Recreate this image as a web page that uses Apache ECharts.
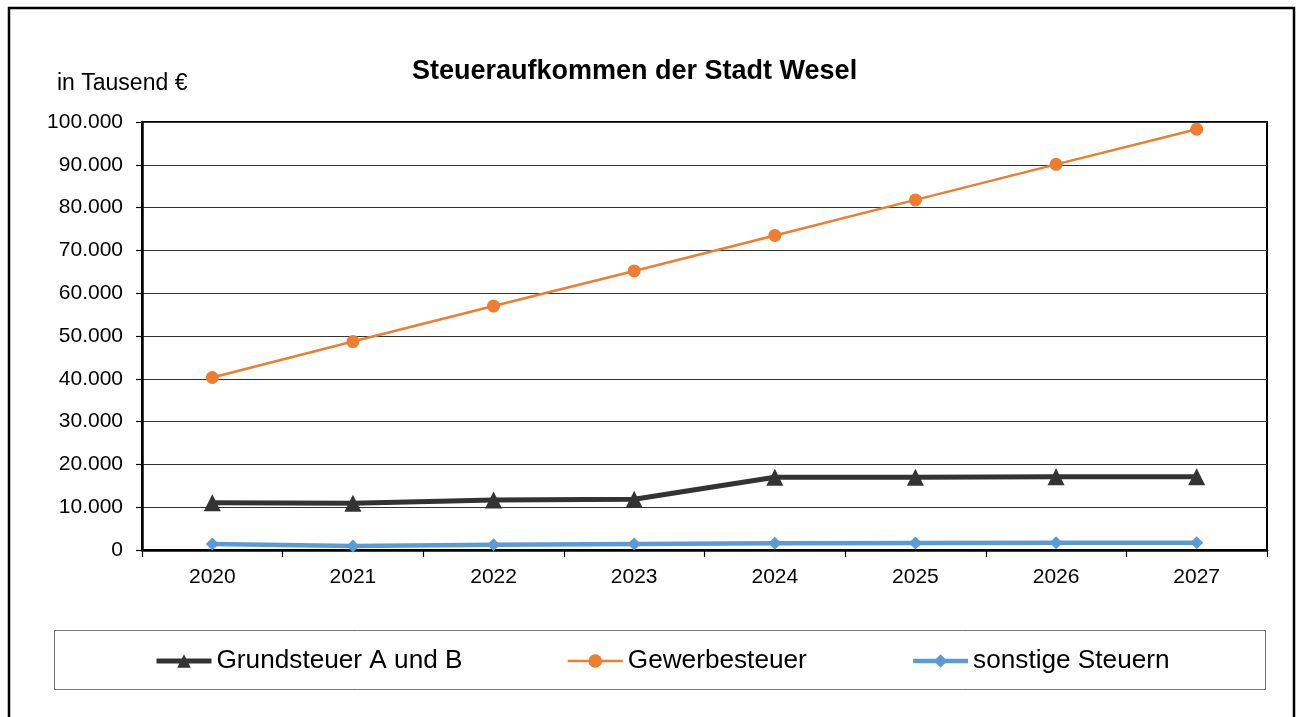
<!DOCTYPE html>
<html>
<head>
<meta charset="utf-8">
<script src="https://cdn.jsdelivr.net/npm/echarts@6/dist/echarts.min.js"></script>
<style>
html,body{margin:0;padding:0;background:#fff;}
#c{width:1299px;height:717px;}
</style>
</head>
<body>
<div id="c"></div>
<script>
const years = ['2020','2021','2022','2023','2024','2025','2026','2027'];
const grundsteuer = [11050, 10900, 11700, 11850, 17000, 17000, 17100, 17100];
const gewerbesteuer = [40300, 48700, 57000, 65200, 73500, 81800, 90100, 98300];
const sonstige = [1400, 950, 1250, 1400, 1550, 1650, 1700, 1700];
const seriesNames = ['Grundsteuer A und B', 'Gewerbesteuer', 'sonstige Steuern'];
const titleText = 'Steueraufkommen der Stadt Wesel';
const unitText = 'in Tausend €';

const FONT = '"Liberation Sans", Arial, sans-serif';
function fmt(v){ return String(v).replace(/\B(?=(\d{3})+(?!\d))/g, '.'); }

const chart = echarts.init(document.getElementById('c'), null, {renderer:'canvas'});
chart.setOption({
  animation:false,
  backgroundColor:'#fff',
  textStyle:{fontFamily:FONT},
  title:{
    text:titleText, left:412, top:58, padding:0,
    textStyle:{fontFamily:FONT, fontSize:27, fontWeight:'bold', color:'#000'}
  },
  graphic:[
    {type:'rect', shape:{x:9, y:8, width:1285, height:740}, style:{fill:'none', stroke:'#000', lineWidth:2.5}, silent:true},
    {type:'rect', shape:{x:54.5, y:630.5, width:1211, height:59}, style:{fill:'#fff', stroke:'#777', lineWidth:1}, silent:true, z:-1},
    {type:'text', left:57, top:72, style:{text:unitText, font:'23px ' + FONT, fill:'#000'}}
  ],
  legend:{
    left:154, top:648, padding:0, itemGap:104, itemWidth:55, itemHeight:17,
    textStyle:{fontFamily:FONT, fontSize:26.2, color:'#000'},
    data:[
      {name:seriesNames[0], lineStyle:{width:5}},
      {name:seriesNames[1], lineStyle:{width:2.5}},
      {name:seriesNames[2], lineStyle:{width:4.5}}
    ]
  },
  grid:{left:142, right:32, top:122, bottom:167, show:true, borderColor:'#000', borderWidth:2, containLabel:false},
  xAxis:{
    type:'category', data:years, boundaryGap:true,
    axisLine:{lineStyle:{color:'#000', width:2.5}},
    axisTick:{show:true, length:7, lineStyle:{color:'#000', width:1.2}},
    axisLabel:{color:'#000', fontSize:21, fontFamily:FONT, margin:17},
    splitLine:{show:false}
  },
  yAxis:{
    type:'value', min:0, max:100000, interval:10000,
    axisLine:{show:true, lineStyle:{color:'#000', width:2.5}},
    axisTick:{show:true, length:6, lineStyle:{color:'#000', width:1.2}},
    axisLabel:{color:'#000', fontSize:21, fontFamily:FONT, margin:19, formatter:fmt},
    splitLine:{show:true, lineStyle:{color:'#333', width:1.2}}
  },
  series:[
    {name:seriesNames[0], type:'line', data:grundsteuer, symbol:'triangle', symbolSize:17,
     lineStyle:{color:'#333333', width:5}, itemStyle:{color:'#333333'}, z:3},
    {name:seriesNames[1], type:'line', data:gewerbesteuer, symbol:'circle', symbolSize:13,
     lineStyle:{color:'#ED7D31', width:2.5}, itemStyle:{color:'#ED7D31'}, z:4},
    {name:seriesNames[2], type:'line', data:sonstige, symbol:'diamond', symbolSize:13,
     lineStyle:{color:'#5B9BD5', width:4.5}, itemStyle:{color:'#5B9BD5'}, z:5}
  ]
});
</script>
</body>
</html>
